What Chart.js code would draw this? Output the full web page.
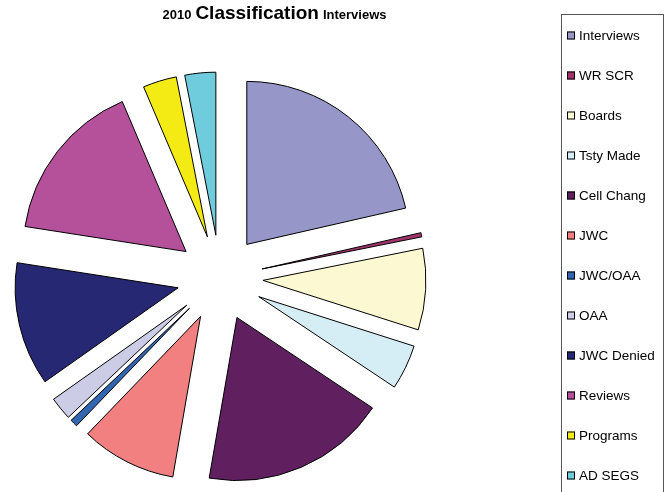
<!DOCTYPE html>
<html>
<head>
<meta charset="utf-8">
<script src="https://cdn.jsdelivr.net/npm/chart.js@4.4.1/dist/chart.umd.min.js"></script>
<style>
  html,body{margin:0;padding:0;background:#fff;}
  #wrap{width:666px;height:492px;position:relative;}
</style>
</head>
<body>
<div id="wrap"><canvas id="pie" width="666" height="492"></canvas></div>
<script>
// slice values (share of the circle)
const categories = ['Interviews','WR SCR','Boards','Tsty Made','Cell Chang','JWC','JWC/OAA','OAA','JWC Denied','Reviews','Programs','AD SEGS'];
const counts = [77, 1.5, 29, 16, 66, 34, 2.7, 8.2, 44, 58, 12, 11];
const colors = ['#9696C8','#A0336A','#FCF9D2','#D5EEF5','#602060','#F28080','#3366B0','#CCCCE6','#262873','#B5519B','#F5EB14','#6ECCDC'];
const titleParts = [['2010', 13], ['Classification', 19], ['Interviews', 13]];

const FONT = '"Liberation Sans", Arial, sans-serif';
const EXPLODE = 43;

// push every slice out from the centre (Excel style exploded pie)
const explodePlugin = {
  id: 'explode',
  afterDatasetUpdate(chart, args) {
    const meta = chart.getDatasetMeta(args.index);
    meta.data.forEach(arc => {
      const mid = (arc.startAngle + arc.endAngle) / 2;
      arc.x += Math.cos(mid) * EXPLODE;
      arc.y += Math.sin(mid) * EXPLODE;
    });
  }
};

// title with mixed font sizes
const titlePlugin = {
  id: 'mixedTitle',
  afterDraw(chart) {
    const ctx = chart.ctx;
    ctx.save();
    ctx.fillStyle = '#000';
    ctx.textBaseline = 'alphabetic';
    const widths = titleParts.map(([t, s]) => { ctx.font = 'bold ' + s + 'px ' + FONT; return ctx.measureText(t).width; });
    const gap = 4;
    const total = widths.reduce((a, b) => a + b, 0) + gap * (titleParts.length - 1);
    let x = 274.5 - total / 2;
    titleParts.forEach(([t, s], i) => {
      ctx.font = 'bold ' + s + 'px ' + FONT;
      ctx.fillText(t, x, 19);
      x += widths[i] + gap;
    });
    ctx.restore();
  }
};

// framed legend on the right
const legendPlugin = {
  id: 'boxLegend',
  afterDraw(chart) {
    const ctx = chart.ctx;
    const left = 561, top = 14.5, right = 663;
    ctx.save();
    ctx.strokeStyle = '#555';
    ctx.lineWidth = 1;
    ctx.strokeRect(left + 0.5, top, right - left, 500);
    ctx.font = '13.5px ' + FONT;
    ctx.textBaseline = 'middle';
    categories.forEach((name, i) => {
      const cy = 35.5 + i * 40;
      ctx.fillStyle = colors[i];
      ctx.fillRect(567, cy - 4, 8, 8);
      ctx.strokeStyle = '#000';
      ctx.strokeRect(567.5, cy - 3.5, 7, 7);
      ctx.fillStyle = '#000';
      ctx.fillText(name, 579, cy + 0.5);
    });
    ctx.restore();
  }
};

new Chart(document.getElementById('pie'), {
  type: 'pie',
  data: {
    labels: categories,
    datasets: [{
      data: counts,
      backgroundColor: colors,
      borderColor: '#000',
      borderWidth: 1,
      borderJoinStyle: 'miter'
    }]
  },
  options: {
    responsive: false,
    animation: false,
    radius: 163,
    layout: { padding: { left: 0, right: 226, top: 64, bottom: 0 } },
    plugins: { legend: { display: false }, tooltip: { enabled: false }, title: { display: false } }
  },
  plugins: [explodePlugin, titlePlugin, legendPlugin]
});
</script>
</body>
</html>
